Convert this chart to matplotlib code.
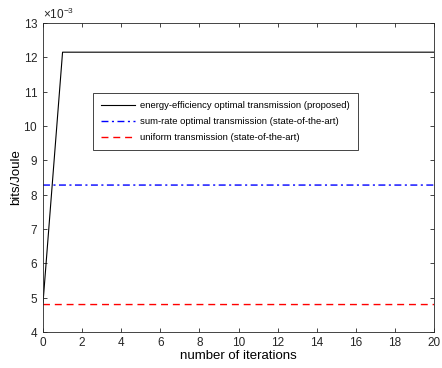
import numpy as np
import matplotlib.pyplot as plt
from matplotlib.ticker import ScalarFormatter

plt.rcParams['font.family'] = ['Liberation Sans', 'DejaVu Sans']
plt.rcParams['mathtext.fontset'] = 'custom'
plt.rcParams['mathtext.rm'] = 'Liberation Sans'

iterations = np.arange(0, 21)
ee_optimal = np.array([4.85e-3] + [12.15e-3] * 20)
sum_rate = np.full(21, 8.28e-3)
uniform = np.full(21, 4.8e-3)

labels = ['energy-efficiency optimal transmission (proposed)',
          'sum-rate optimal transmission (state-of-the-art)',
          'uniform transmission (state-of-the-art)']

fig = plt.figure(figsize=(4.42, 3.68), dpi=100)
ax = fig.add_axes([0.0973, 0.0978, 0.8847, 0.8397])

ax.plot(iterations, ee_optimal, color='black', lw=0.8, label=labels[0])
ax.plot(iterations, sum_rate, color='#0000ff', lw=1.0, ls=(0, (5, 2.5, 1.5, 2.5)),
        snap=False, label=labels[1])
ax.plot(iterations, uniform, color='#ff0000', lw=1.0, ls=(0, (5, 3.5)),
        snap=False, label=labels[2])

ax.set_xlim(0, 20)
ax.set_ylim(4e-3, 13e-3)
ax.set_xticks(np.arange(0, 21, 2))
ax.set_yticks(np.arange(4e-3, 13.5e-3, 1e-3))

fmt = ScalarFormatter(useMathText=True)
fmt.set_powerlimits((-3, -3))
ax.yaxis.set_major_formatter(fmt)
ax.yaxis.get_offset_text().set_fontsize(8.5)

ax.tick_params(direction='in', top=True, right=True, labelsize=8.5, length=3, width=0.6, colors='#262626')
for s in ax.spines.values():
    s.set_linewidth(0.6)
    s.set_color('#262626')

ax.set_xlabel('number of iterations', fontsize=9.5, labelpad=1)
ax.set_ylabel('bits/Joule', fontsize=9.5, labelpad=1)

leg = ax.legend(loc='upper left', bbox_to_anchor=(0.128, 0.773), borderaxespad=0, fontsize=6.8,
                frameon=True, fancybox=False, edgecolor='#262626', framealpha=1,
                handlelength=3.6, borderpad=0.85, labelspacing=0.75, handletextpad=0.5)
leg.get_frame().set_linewidth(0.6)

fig.savefig('out.png', dpi=100)
